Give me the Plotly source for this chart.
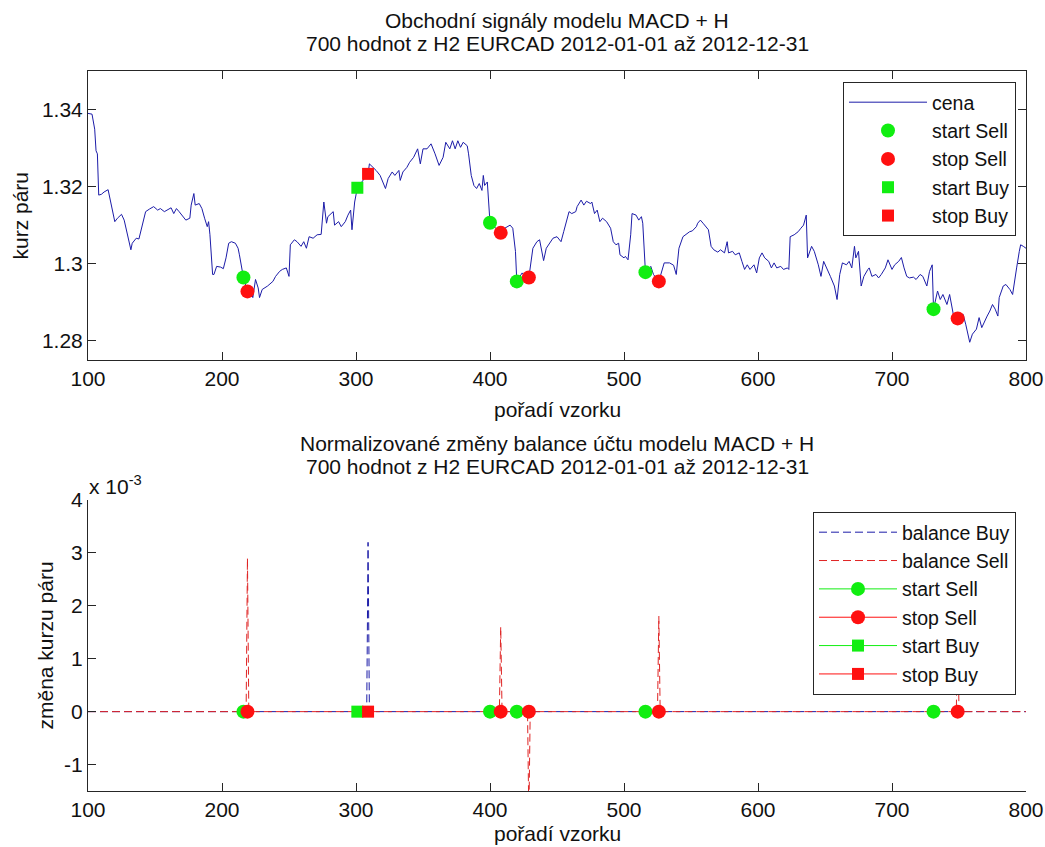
import numpy as np
import plotly.graph_objects as go

# ---------------- data ----------------
sample_x = [100, 103, 105, 106, 107, 108, 110, 112, 115, 117, 120, 122, 125, 127, 130, 132, 133, 136, 138,
            141, 143, 146, 149, 152, 154, 157, 159, 162, 164, 166, 168, 171, 173, 176, 177, 179, 180, 183,
            185, 187, 189, 190, 191, 193, 194, 196, 199, 201, 203, 205, 207, 210, 212, 213, 215, 216, 219,
            222, 223, 225, 227, 228, 230, 234, 238, 240, 243, 245, 248, 250, 251, 254, 256, 259, 261, 263,
            265, 268, 271, 274, 276, 278, 279, 283, 284, 287, 289, 292, 294, 296, 297, 299, 301, 305, 309,
            310, 313, 315, 318, 320, 322, 324, 327, 329, 332, 333, 335, 338, 340, 343, 346, 348, 350, 353,
            356, 359, 362, 365, 367, 370, 372, 374, 376, 378, 380, 383, 384, 386, 388, 390, 392, 394, 395,
            396, 398, 400, 408, 411, 415, 417, 419, 420, 424, 426, 429, 432, 435, 437, 439, 440, 442, 445,
            447, 450, 453, 455, 457, 459, 461, 464, 465, 468, 470, 472, 475, 476, 478, 480, 482, 484, 487,
            490, 492, 494, 496, 497, 500, 501, 503, 505, 506, 509, 511, 513, 514, 516, 520, 522, 526, 529,
            530, 534, 537, 539, 541, 544, 546, 549, 551, 554, 555, 557, 559, 561, 563, 565, 567, 570, 572,
            575, 577, 578, 581, 583, 586, 588, 590, 592, 594, 597, 599, 601, 603, 605, 608, 610, 612, 614,
            617, 619, 622, 623, 624, 627, 630, 632, 634, 636, 637, 640, 642, 645, 647, 649, 652, 654, 657,
            659, 661, 663, 666, 668, 670, 672, 673, 675, 677, 679, 682, 683, 685, 688, 690, 692, 695, 697,
            700, 702, 705, 707, 709, 711, 713, 716, 718, 721, 723, 726, 728, 730, 731, 734, 736, 738, 741,
            743, 746, 749, 753, 755, 758, 760, 763, 765, 767, 769, 771, 773, 775, 777, 779, 780, 783, 785,
            788, 790, 791, 793, 795, 796, 798, 800]
price = [1.3390, 1.3388, 1.3349, 1.3293, 1.3285, 1.3178, 1.3180, 1.3186, 1.3192, 1.3160, 1.3109, 1.3118,
         1.3128, 1.3113, 1.3066, 1.3036, 1.3053, 1.3066, 1.3064, 1.3109, 1.3135, 1.3142, 1.3148, 1.3139,
         1.3143, 1.3135, 1.3139, 1.3145, 1.3130, 1.3143, 1.3135, 1.3122, 1.3113, 1.3118, 1.3152, 1.3182,
         1.3152, 1.3156, 1.3143, 1.3118, 1.3096, 1.3109, 1.3075, 1.2972, 1.2972, 1.2993, 1.2991, 1.2987,
         1.3015, 1.3053, 1.3057, 1.3053, 1.3040, 1.3023, 1.2980, 1.2964, 1.2928, 1.2925, 1.2912, 1.2959,
         1.2937, 1.2912, 1.2933, 1.2942, 1.2954, 1.2967, 1.2980, 1.2985, 1.2989, 1.2967, 1.3049, 1.3062,
         1.3057, 1.3045, 1.3057, 1.3040, 1.3070, 1.3066, 1.3075, 1.3076, 1.3160, 1.3105, 1.3122, 1.3135,
         1.3100, 1.3109, 1.3096, 1.3109, 1.3126, 1.3139, 1.3088, 1.3160, 1.3197, 1.3215, 1.3233, 1.3259,
         1.3250, 1.3242, 1.3229, 1.3212, 1.3195, 1.3221, 1.3238, 1.3229, 1.3242, 1.3216, 1.3238, 1.3250,
         1.3263, 1.3276, 1.3298, 1.3259, 1.3298, 1.3298, 1.3311, 1.3285, 1.3255, 1.3276, 1.3315, 1.3298,
         1.3319, 1.3298, 1.3319, 1.3302, 1.3315, 1.3306, 1.3285, 1.3229, 1.3203, 1.3195, 1.3208, 1.3190,
         1.3229, 1.3203, 1.3212, 1.3106, 1.3080, 1.3092, 1.3100, 1.3092, 1.3032, 1.2954, 1.2976, 1.2967,
         1.2964, 1.3040, 1.3057, 1.3062, 1.3028, 1.3008, 1.3040, 1.3057, 1.3066, 1.3070, 1.3057, 1.3083,
         1.3109, 1.3135, 1.3130, 1.3135, 1.3148, 1.3165, 1.3152, 1.3162, 1.3156, 1.3160, 1.3130, 1.3139,
         1.3109, 1.3118, 1.3109, 1.3092, 1.3057, 1.3049, 1.3053, 1.3023, 1.3015, 1.3019, 1.3010, 1.3075,
         1.3130, 1.3126, 1.3113, 1.3122, 1.3105, 1.2978, 1.2993, 1.2972, 1.2954, 1.2989, 1.3002, 1.3002,
         1.2996, 1.2972, 1.3040, 1.3070, 1.3075, 1.3083, 1.3085, 1.3096, 1.3105, 1.3113, 1.3105, 1.3096,
         1.3088, 1.3045, 1.3036, 1.3030, 1.3036, 1.3028, 1.3057, 1.3028, 1.3032, 1.3023, 1.3028, 1.3006,
         1.2985, 1.2997, 1.2985, 1.2997, 1.2976, 1.3015, 1.3028, 1.3015, 1.3006, 1.2989, 1.3002, 1.2989,
         1.2993, 1.2985, 1.2989, 1.2985, 1.3070, 1.3075, 1.3083, 1.3092, 1.3100, 1.3126, 1.3015, 1.3045,
         1.3032, 1.2997, 1.2967, 1.3006, 1.2980, 1.2967, 1.2942, 1.2907, 1.2972, 1.3002, 1.2997, 1.3006,
         1.2989, 1.3045, 1.3015, 1.3032, 1.2942, 1.2967, 1.2985, 1.2989, 1.2967, 1.2972, 1.2963, 1.2972,
         1.2989, 1.3010, 1.2985, 1.2997, 1.3006, 1.3016, 1.2989, 1.2967, 1.2963, 1.2965, 1.2959, 1.2972,
         1.2967, 1.2942, 1.2980, 1.2997, 1.2882, 1.2929, 1.2907, 1.2920, 1.2894, 1.2920, 1.2864, 1.2858,
         1.2869, 1.2843, 1.2796, 1.2817, 1.2830, 1.2860, 1.2834, 1.2851, 1.2864, 1.2877, 1.2894, 1.2882,
         1.2864, 1.2912, 1.2942, 1.2946, 1.2933, 1.2920, 1.2946, 1.2989, 1.3032, 1.3049, 1.3045, 1.3040]

start_sell_x = [216, 400, 420, 516, 731]
start_sell_y = [1.2964, 1.3106, 1.2954, 1.2978, 1.2882]
stop_sell_x = [219, 408, 429, 526, 749]
stop_sell_y = [1.2928, 1.3080, 1.2964, 1.2954, 1.2858]
start_buy_x = [301]
start_buy_y = [1.3197]
stop_buy_x = [309]
stop_buy_y = [1.3233]

balance_buy_at = [309]
balance_buy_val = [3.2e-3]
balance_sell_at = [219, 408, 429, 526, 749]
balance_sell_val = [2.9e-3, 1.6e-3, -2.0e-3, 1.8e-3, 1.8e-3]

sample_range = [100, 800]
top_yticks = [1.28, 1.30, 1.32, 1.34]
top_yticktext = ["1.28", "1.3", "1.32", "1.34"]
bot_yticks = [-1e-3, 0, 1e-3, 2e-3, 3e-3, 4e-3]
bot_yticktext = ["-1", "0", "1", "2", "3", "4"]
xticks = [100, 200, 300, 400, 500, 600, 700, 800]

# balance series over all samples (zero except at closed trades)
n_all = np.arange(sample_range[0], sample_range[1] + 1)
bal_buy = np.zeros(len(n_all))
for i, v in zip(balance_buy_at, balance_buy_val):
    bal_buy[i - sample_range[0]] = v
bal_sell = np.zeros(len(n_all))
for i, v in zip(balance_sell_at, balance_sell_val):
    bal_sell[i - sample_range[0]] = v


def sep(xs):
    out = []
    for v in xs:
        out += [v, None]
    return out


def zeros_sep(xs):
    out = []
    for _ in xs:
        out += [0, None]
    return out


# ---------------- styling ----------------
W, H = 1045, 847
FONT = "Liberation Sans, Arial, sans-serif"
BLUE = "#1c1ca8"
RED_LINE = "#e02424"
GREEN = "#11ee11"
RED = "#ff1010"
AX = "#262626"
LEG_FONT = 19.5
LEG_ITEMW = 78


def px(x):
    return x / W


def py(y):
    return 1 - y / H


fig = go.Figure()

# top subplot
fig.add_trace(go.Scatter(x=sample_x, y=price, mode="lines", name="cena",
                         line=dict(color=BLUE, width=1), xaxis="x", yaxis="y", legend="legend"))
fig.add_trace(go.Scatter(x=start_sell_x, y=start_sell_y, mode="markers", name="start Sell",
                         marker=dict(color=GREEN, size=14, symbol="circle"), xaxis="x", yaxis="y", legend="legend"))
fig.add_trace(go.Scatter(x=stop_sell_x, y=stop_sell_y, mode="markers", name="stop Sell",
                         marker=dict(color=RED, size=14, symbol="circle"), xaxis="x", yaxis="y", legend="legend"))
fig.add_trace(go.Scatter(x=start_buy_x, y=start_buy_y, mode="markers", name="start Buy",
                         marker=dict(color=GREEN, size=12, symbol="square"), xaxis="x", yaxis="y", legend="legend"))
fig.add_trace(go.Scatter(x=stop_buy_x, y=stop_buy_y, mode="markers", name="stop Buy",
                         marker=dict(color=RED, size=12, symbol="square"), xaxis="x", yaxis="y", legend="legend"))

# bottom subplot
DASH = "8px,4px"
fig.add_trace(go.Scatter(x=n_all, y=bal_buy, mode="lines", name="balance Buy",
                         line=dict(color=BLUE, width=1, dash=DASH), xaxis="x2", yaxis="y2", legend="legend2"))
fig.add_trace(go.Scatter(x=n_all, y=bal_sell, mode="lines", name="balance Sell",
                         line=dict(color=RED_LINE, width=1, dash=DASH), xaxis="x2", yaxis="y2", legend="legend2"))
for name, xs, col, sym, sz in [("start Sell", start_sell_x, GREEN, "circle", 14),
                               ("stop Sell", stop_sell_x, RED, "circle", 14),
                               ("start Buy", start_buy_x, GREEN, "square", 12),
                               ("stop Buy", stop_buy_x, RED, "square", 12)]:
    fig.add_trace(go.Scatter(x=sep(xs), y=zeros_sep(xs), mode="lines+markers", name=name,
                             connectgaps=False,
                             line=dict(color=col, width=1),
                             marker=dict(color=col, size=sz, symbol=sym),
                             xaxis="x2", yaxis="y2", legend="legend2"))

axis_common = dict(showline=True, linecolor=AX, linewidth=1, ticks="inside", ticklen=8,
                   tickcolor=AX, showgrid=False, zeroline=False, automargin=False,
                   tickfont=dict(family=FONT, size=21, color="#111"))

x_dom = [px(88), px(1026)]
fig.update_layout(
    width=W, height=H, autosize=False,
    margin=dict(l=0, r=0, t=0, b=0, pad=0, autoexpand=False),
    paper_bgcolor="white", plot_bgcolor="white",
    font=dict(family=FONT, size=21, color="#111"),
    xaxis=dict(domain=x_dom, range=sample_range, tickvals=xticks, mirror="ticks", anchor="y", **axis_common),
    yaxis=dict(domain=[py(360), py(71)], range=[1.275, 1.35], tickvals=top_yticks, ticktext=top_yticktext,
               mirror="ticks", anchor="x", **axis_common),
    xaxis2=dict(domain=x_dom, range=sample_range, tickvals=xticks, anchor="y2", **axis_common),
    yaxis2=dict(domain=[py(791), py(500)], range=[-1.5e-3, 4e-3], tickvals=bot_yticks, ticktext=bot_yticktext,
                anchor="x2", **axis_common),
    legend=dict(x=px(1016), xanchor="right", y=py(82), yanchor="top", bgcolor="white",
                bordercolor=AX, borderwidth=1, font=dict(family=FONT, size=LEG_FONT, color="#111"),
                itemwidth=LEG_ITEMW, tracegroupgap=0),
    legend2=dict(x=px(1016), xanchor="right", y=py(512), yanchor="top", bgcolor="white",
                 bordercolor=AX, borderwidth=1, font=dict(family=FONT, size=LEG_FONT, color="#111"),
                 itemwidth=LEG_ITEMW, tracegroupgap=0),
    showlegend=True,
)

annots = [
    ("Obchodní signály modelu MACD + H", 557, 20, 0),
    ("700 hodnot z H2 EURCAD 2012-01-01 až 2012-12-31", 557, 43, 0),
    ("pořadí vzorku", 557, 409, 0),
    ("Normalizované změny balance účtu modelu MACD + H", 557, 443, 0),
    ("700 hodnot z H2 EURCAD 2012-01-01 až 2012-12-31", 557, 466, 0),
    ("pořadí vzorku", 557, 833, 0),
    ("kurz páru", 20, 215.5, -90),
    ("změna kurzu páru", 45, 645.5, -90),
]
for text, x, y, ang in annots:
    fig.add_annotation(text=text, x=px(x), y=py(y), xref="paper", yref="paper",
                       xanchor="center", yanchor="middle", showarrow=False, textangle=ang,
                       font=dict(family=FONT, size=21, color="#111"))
fig.add_annotation(text="x 10<sup>-3</sup>", x=px(87), y=py(485), xref="paper", yref="paper",
                   xanchor="left", yanchor="middle", showarrow=False,
                   font=dict(family=FONT, size=21, color="#111"))

fig.write_html("out.html")
